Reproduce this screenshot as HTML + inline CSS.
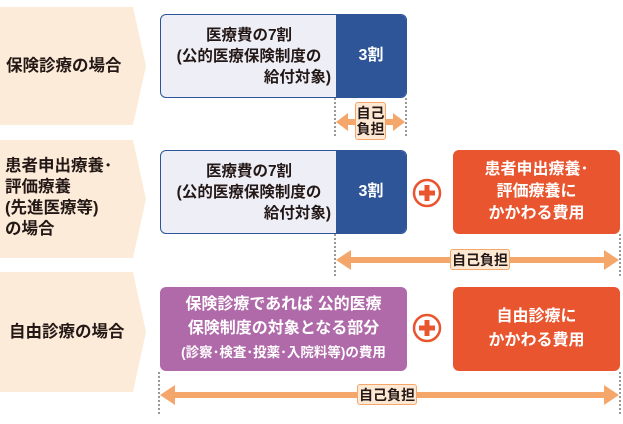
<!DOCTYPE html>
<html><head><meta charset="utf-8"><style>
*{margin:0;padding:0;box-sizing:border-box}
body{width:623px;height:424px;background:#fff;position:relative;overflow:hidden;font-family:"Liberation Sans","Noto Sans CJK JP",sans-serif;font-weight:bold}
.a{position:absolute}
.c{display:flex;align-items:center;justify-content:center;text-align:center}
.lb{color:#231815;font-size:16.5px;line-height:21px}
.lbl{background:#fde8d4;border:1px solid #f5a66a;border-radius:3px;color:#231815;font-size:14px;line-height:16px}
.w{color:#fff;font-size:16px;line-height:22px}
.bt{font-size:15.5px;line-height:21px;color:#231815}
</style></head><body>
<svg class="a" style="left:0;top:0" width="623" height="424">
<polygon points="0,7 133,7 146,66 133,125 0,125" fill="#fdebd9"/>
<polygon points="0,140 133,140 146,199 133,258 0,258" fill="#fdebd9"/>
<polygon points="0,272 133,272 146,332 133,392 0,392" fill="#fdebd9"/>
<g stroke="#333" stroke-width="1" stroke-dasharray="2,2">
<line x1="335" y1="98" x2="335" y2="137"/><line x1="406" y1="98" x2="406" y2="137"/>
<line x1="335" y1="234" x2="335" y2="276"/><line x1="620" y1="234" x2="620" y2="276"/>
<line x1="159" y1="372" x2="159" y2="414"/><line x1="620" y1="372" x2="620" y2="414"/>
</g>
<g fill="#f5a66a">
<polygon points="336,122 348,113 348,119 393,119 393,113 405,122 393,131 393,125 348,125 348,131"/>
<polygon points="336,260 351,250 351,257 604,257 604,250 619,260 604,270 604,263 351,263 351,270"/>
<polygon points="160,395 175,385 175,392 604,392 604,385 619,395 604,405 604,398 175,398 175,405"/>
</g>
<g><circle cx="427" cy="193" r="13" fill="#fff" stroke="#e8552f" stroke-width="2.5"/>
<rect x="419" y="190.5" width="16" height="5" fill="#e8552f"/><rect x="424.5" y="185" width="5" height="16" fill="#e8552f"/>
<circle cx="427" cy="328" r="13" fill="#fff" stroke="#e8552f" stroke-width="2.5"/>
<rect x="419" y="325.5" width="16" height="5" fill="#e8552f"/><rect x="424.5" y="320" width="5" height="16" fill="#e8552f"/></g>
</svg>
<div class="a lb" style="left:6px;top:56px">保険診療の場合</div>
<div class="a lb" style="left:5px;top:156px;line-height:21px">患者申出療養･<br>評価療養<br>(先進医療等)<br>の場合</div>
<div class="a lb" style="left:9px;top:322px">自由診療の場合</div>

<div class="a" style="left:160px;top:14px;width:247px;height:84px;border:1.5px solid #2e5597;border-radius:6px;background:#eeeef7;overflow:hidden">
<div class="a" style="left:175px;top:0;width:72px;height:84px;background:#2e5597"></div>
<div class="a c w" style="left:175px;top:0;width:70px;height:82px">3割</div>
<div class="a bt" style="left:2px;top:10px;width:172px;text-align:center">医療費の7割<br>(公的医療保険制度の<br><span style="display:block;text-align:right;padding-right:4px">給付対象)</span></div>
</div>
<div class="a c lbl" style="left:355px;top:102px;width:31px;height:38px">自己<br>負担</div>

<div class="a" style="left:160px;top:150px;width:247px;height:84px;border:1.5px solid #2e5597;border-radius:6px;background:#eeeef7;overflow:hidden">
<div class="a" style="left:175px;top:0;width:72px;height:84px;background:#2e5597"></div>
<div class="a c w" style="left:175px;top:0;width:70px;height:82px">3割</div>
<div class="a bt" style="left:2px;top:10px;width:172px;text-align:center">医療費の7割<br>(公的医療保険制度の<br><span style="display:block;text-align:right;padding-right:4px">給付対象)</span></div>
</div>
<div class="a c w" style="left:453px;top:150px;width:167px;height:84px;background:#e8552f;border-radius:6px"><div>患者申出療養･<br>評価療養に<br>かかわる費用</div></div>
<div class="a c lbl" style="left:450px;top:249px;width:60px;height:21px">自己負担</div>

<div class="a c w" style="left:160px;top:287px;width:247px;height:84px;background:#b06aa9;border-radius:6px;line-height:24px"><div><div style="white-space:nowrap">保険診療であれば 公的医療</div><div style="white-space:nowrap">保険制度の対象となる部分</div><div style="font-size:13.5px;white-space:nowrap">(診察･検査･投薬･入院料等)の費用</div></div></div>
<div class="a c w" style="left:453px;top:287px;width:167px;height:84px;background:#e8552f;border-radius:6px;line-height:24px"><div>自由診療に<br>かかわる費用</div></div>
<div class="a c lbl" style="left:357px;top:384px;width:60px;height:21px">自己負担</div>
</body></html>
